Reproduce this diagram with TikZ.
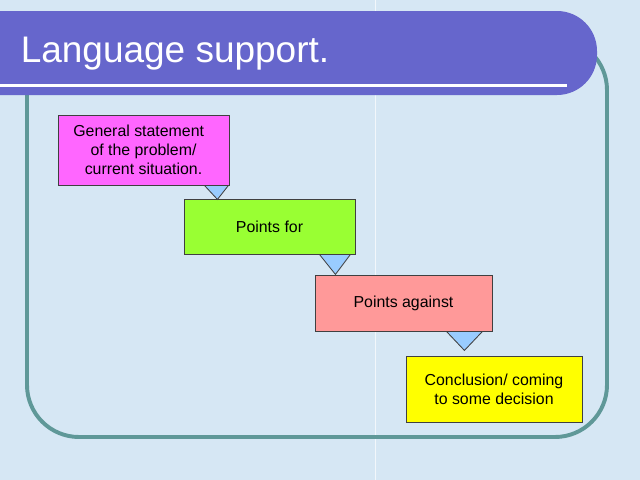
\documentclass[tikz,border=0pt]{standalone}
\usepackage{fontspec}
\setmainfont{Liberation Sans}
\usetikzlibrary{calc}
\definecolor{bgblue}{HTML}{D6E7F4}
\definecolor{barblue}{HTML}{6666CC}
\definecolor{frameteal}{HTML}{5F9898}
\definecolor{genpink}{HTML}{FF66FF}
\definecolor{forgreen}{HTML}{99FF33}
\definecolor{againstred}{HTML}{FF9999}
\definecolor{concyellow}{HTML}{FFFF00}
\definecolor{triblue}{HTML}{99CCFF}
\begin{document}
\begin{tikzpicture}[x=0.025cm,y=-0.025cm,
	box/.style={draw=black!75,line width=0.6pt,inner sep=0pt,align=center,
		font=\fontsize{11.3}{13.4}\selectfont},
	tri/.style={fill=triblue,draw=black!75,line width=0.6pt,line join=miter}]
	\useasboundingbox (0,0) rectangle (640,480);
	\fill[bgblue] (0,0) rectangle (640,480);
	\draw[white,opacity=0.7,line width=0.6pt] (375,0) -- (375,480);
	\draw[frameteal,line width=2.8pt,rounded corners=1.3cm] (27,38) rectangle (607,437);
	\fill[barblue,rounded corners=1cm] (-60,11) rectangle (597,95);
	\draw[white,line width=1.8pt] (-5,85.5) -- (567,85.5);
	\node[anchor=base west,text=white,inner sep=0pt,font=\fontsize{26.3}{30}\selectfont] (title) at (20.5,62.7) {Language support.};
	\node[box,fill=genpink,minimum width=4.275cm,minimum height=1.75cm] (gen) at (143.5,150) {General statement\rule{0.6em}{0pt}\\of the problem/\\current situation.};
	\node[box,fill=forgreen,minimum width=4.275cm,minimum height=1.375cm] (pfor) at (269.5,226.5) {Points for};
	\node[box,fill=againstred,minimum width=4.425cm,minimum height=1.4cm] (against) at (403.5,303) {Points against};
	\node[box,fill=concyellow,minimum width=4.4cm,minimum height=1.65cm] (conc) at (494,389) {Conclusion/ coming\\to some decision};
	\foreach \n/\l/\r/\m/\d in {gen/25/1/12/14,pfor/36/5/20/20,against/46/10/28/19}
		\filldraw[tri] ($(\n.south east)+(-\l,0)$) -- ($(\n.south east)+(-\m,\d)$) -- ($(\n.south east)+(-\r,0)$) -- cycle;
\end{tikzpicture}
\end{document}
